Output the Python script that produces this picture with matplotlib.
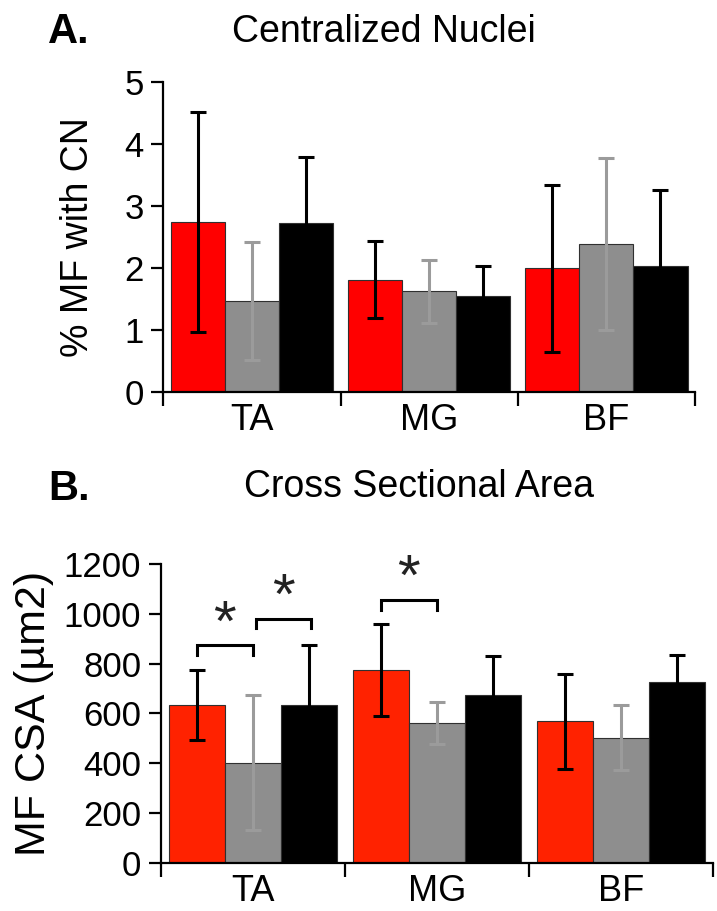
import matplotlib
matplotlib.use('agg')
from matplotlib import pyplot as plt
import numpy as np

plt.rcParams['font.family'] = ['Liberation Sans', 'DejaVu Sans']

muscles = ['TA', 'MG', 'BF']
groups = ['red', 'gray', 'black']

# panel A: % myofibers with centralized nuclei
cn_mean = {'red': [2.74, 1.81, 1.99], 'gray': [1.46, 1.62, 2.38], 'black': [2.72, 1.54, 2.03]}
cn_err = {'red': [1.77, 0.62, 1.35], 'gray': [0.95, 0.51, 1.39], 'black': [1.07, 0.49, 1.23]}

# panel B: myofiber cross sectional area
csa_mean = {'red': [634, 774, 568], 'gray': [402, 562, 502], 'black': [634, 675, 727]}
csa_err = {'red': [142, 186, 190], 'gray': [270, 84, 130], 'black': [240, 155, 107]}

# significance brackets on panel B: (muscle index, group from, group to, height)
sig_pairs = [(0, 0, 1, 873), (0, 1, 2, 981), (1, 0, 1, 1055)]

width = 0.305
offsets = {'red': -width, 'gray': 0.0, 'black': width}
ecolors = {'red': 'black', 'gray': '#9b9b9b', 'black': 'black'}


def draw_panel(ax, means, errs, fill, ymax, step):
    x = np.arange(len(muscles))
    for g in groups:
        ax.bar(x + offsets[g], means[g], width, yerr=errs[g], color=fill[g],
               edgecolor='#303030', linewidth=0.8,
               error_kw=dict(ecolor=ecolors[g], elinewidth=2.2, capsize=5.5, capthick=2.2))
    ax.set_xlim(-0.5, len(muscles) - 0.5)
    ax.set_ylim(0, ymax)
    ax.set_yticks(np.arange(0, ymax + 1e-9, step))
    ax.set_xticks(np.arange(len(muscles) + 1) - 0.5)
    ax.set_xticklabels([])
    ax.set_xticks(x, minor=True)
    ax.set_xticklabels(muscles, minor=True, fontsize=26)
    ax.tick_params(axis='x', which='major', direction='out', length=10, width=1.6)
    ax.tick_params(axis='x', which='minor', length=0, pad=8)
    ax.tick_params(axis='y', direction='out', length=9, width=1.6, labelsize=25, pad=5)
    for s in ['top', 'right']:
        ax.spines[s].set_visible(False)
    for s in ['left', 'bottom']:
        ax.spines[s].set_linewidth(1.6)


fig = plt.figure(figsize=(7.17, 9.11), dpi=100)

axA = fig.add_axes([0.2278, 0.570, 0.7416, 0.3403])
draw_panel(axA, cn_mean, cn_err, {'red': '#ff0000', 'gray': '#8e8e8e', 'black': '#000000'}, 5, 1)
axA.set_ylabel('% MF with CN', fontsize=27, va='center')
axA.yaxis.set_label_coords(-0.160, 0.5)

axB = fig.add_axes([0.2241, 0.053, 0.7707, 0.3279])
draw_panel(axB, csa_mean, csa_err, {'red': '#ff2200', 'gray': '#8e8e8e', 'black': '#000000'}, 1200, 200)
axB.set_ylabel('MF CSA (\u00b5m2)', fontsize=31, va='center')
axB.yaxis.set_label_coords(-0.229, 0.5)

for m, g1, g2, h in sig_pairs:
    x1 = m + offsets[groups[g1]] + (0.015 if g1 == 1 else 0)
    x2 = m + offsets[groups[g2]] + (0.01 if g1 == 1 else 0)
    axB.plot([x1, x1, x2, x2], [h - 40, h, h, h - 40], color='black', lw=2.2,
             solid_joinstyle='miter', clip_on=False)
    axB.text((x1 + x2) / 2, h + 80, '*', ha='center', va='center', fontsize=42, color='#222222')

fig.text(48 / 717, 1 - 43 / 911, 'A.', fontsize=30, fontweight='bold', ha='left', va='baseline')
fig.text(384 / 717, 1 - 42 / 911, 'Centralized Nuclei', fontsize=27, ha='center', va='baseline')
fig.text(48 / 717, 1 - 500 / 911, 'B.', fontsize=30, fontweight='bold', ha='left', va='baseline')
fig.text(419 / 717, 1 - 497 / 911, 'Cross Sectional Area', fontsize=27, ha='center', va='baseline')

fig.savefig('out.png', dpi=100)
